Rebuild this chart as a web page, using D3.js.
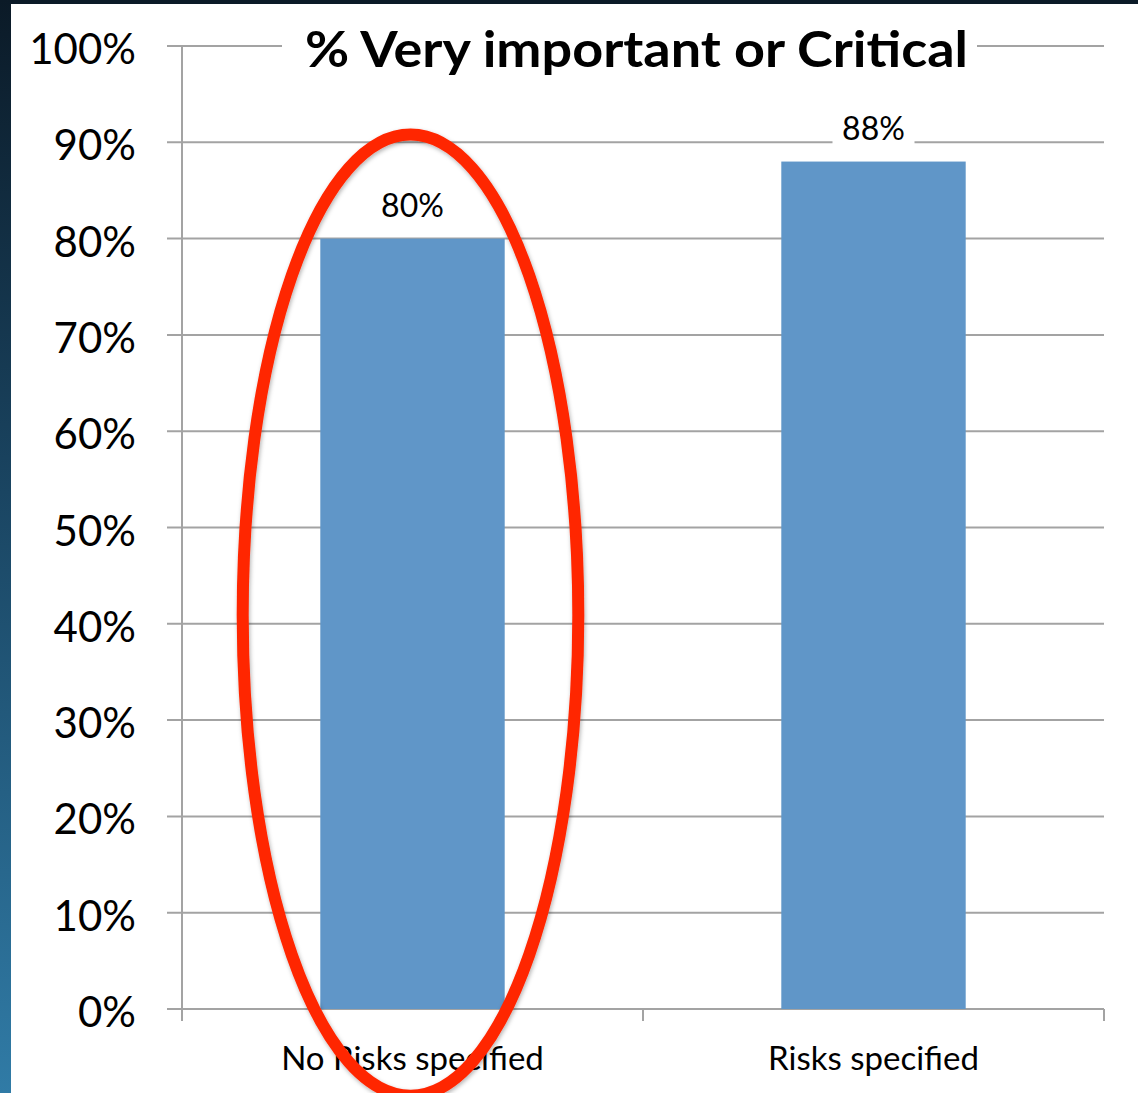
<!DOCTYPE html>
<html><head><meta charset="utf-8">
<script src="https://cdn.jsdelivr.net/npm/d3@7/dist/d3.min.js"></script>
<style>html,body{margin:0;padding:0;background:#fff;overflow:hidden}svg{display:block}</style>
</head><body>
<script>
const categories = ["No Risks specified", "Risks specified"];
const values = [80, 88];
const yTicks = [0, 10, 20, 30, 40, 50, 60, 70, 80, 90, 100];
const title = "% Very important or Critical";
const highlight = { category: "No Risks specified", top: 90.8, bottom: -9 };

const W = 1138, H = 1093;
const m = { left: 182, right: 1104, top: 46, bottom: 1009 };
const FONT = "Lato, 'Open Sans', sans-serif";

const svg = d3.select("body").append("svg").attr("width", W).attr("height", H);
const defs = svg.append("defs");
const grad = defs.append("linearGradient").attr("id", "side").attr("x1", 0).attr("y1", 0).attr("x2", 0).attr("y2", 1);
grad.append("stop").attr("offset", "0%").attr("stop-color", "#0b1a27");
grad.append("stop").attr("offset", "45%").attr("stop-color", "#1a4562");
grad.append("stop").attr("offset", "100%").attr("stop-color", "#307ba6");
const f = defs.append("filter").attr("id", "shadow").attr("x", "-10%").attr("y", "-10%").attr("width", "120%").attr("height", "120%");
f.append("feDropShadow").attr("dx", 1).attr("dy", 2).attr("stdDeviation", 2).attr("flood-color", "#000").attr("flood-opacity", 0.3);

svg.append("rect").attr("width", W).attr("height", H).attr("fill", "#fff");
svg.append("rect").attr("x", 0).attr("y", 0).attr("width", W).attr("height", 4).attr("fill", "#0b1a27");
svg.append("rect").attr("x", 0).attr("y", 0).attr("width", 11).attr("height", H).attr("fill", "url(#side)");

const y = d3.scaleLinear().domain([0, 100]).range([m.bottom, m.top]);
const x = d3.scaleBand().domain(categories).range([m.left, m.right]).paddingInner(0).paddingOuter(0);
const xb = d3.scaleBand().domain(categories).range([m.left, m.right]).paddingInner(0.6).paddingOuter(0.3);

// gridlines
svg.append("g").selectAll("line").data(yTicks).join("line")
  .attr("x1", m.left - 15).attr("x2", m.right)
  .attr("y1", d => y(d)).attr("y2", d => y(d))
  .attr("stroke", "#a3a3a3").attr("stroke-width", 2);

// y axis line
svg.append("line").attr("x1", m.left).attr("x2", m.left).attr("y1", y(100)).attr("y2", m.bottom + 12)
  .attr("stroke", "#a3a3a3").attr("stroke-width", 2);
// x ticks
const xt = categories.map(c => x(c)).concat([m.right]);
svg.append("g").selectAll("line").data(xt).join("line")
  .attr("x1", d => d).attr("x2", d => d).attr("y1", m.bottom).attr("y2", m.bottom + 12)
  .attr("stroke", "#a3a3a3").attr("stroke-width", 2);

// bars
svg.append("g").selectAll("rect").data(values).join("rect")
  .attr("x", (d, i) => xb(categories[i])).attr("width", xb.bandwidth())
  .attr("y", d => y(d)).attr("height", d => y(0) - y(d))
  .attr("fill", "#6096c8");

// y tick labels
svg.append("g").selectAll("text").data(yTicks).join("text")
  .attr("x", 136).attr("y", d => y(d) + 18)
  .attr("text-anchor", "end").attr("font-family", FONT).attr("font-size", 42)
  .attr("fill", "#000").text(d => d + "%");

// data labels with white bg
const dl = svg.append("g").selectAll("g").data(values).join("g");
dl.append("rect")
  .attr("x", (d, i) => xb(categories[i]) + xb.bandwidth() / 2 - 41).attr("width", 82)
  .attr("y", d => y(d) - 50).attr("height", 46).attr("fill", "#fff");
dl.append("text")
  .attr("x", (d, i) => xb(categories[i]) + xb.bandwidth() / 2)
  .attr("y", d => y(d) - 22)
  .attr("text-anchor", "middle").attr("font-family", FONT).attr("font-size", 32)
  .attr("fill", "#000").text(d => d + "%");

// category labels
svg.append("g").selectAll("text").data(categories).join("text")
  .attr("x", d => x(d) + x.bandwidth() / 2).attr("y", 1070)
  .attr("text-anchor", "middle").attr("font-family", FONT).attr("font-size", 33)
  .attr("fill", "#000").text(d => d);

// title
svg.append("rect").attr("x", 282).attr("y", 18).attr("width", 695).attr("height", 60).attr("fill", "#fff");
svg.append("text").attr("x", 636.5).attr("y", 67).attr("text-anchor", "middle")
  .attr("font-family", FONT).attr("font-weight", "bold").attr("font-size", 49)
  .attr("textLength", 663).attr("lengthAdjust", "spacingAndGlyphs")
  .attr("fill", "#000").text(title);

// highlight ellipse
const hcx = xb(highlight.category) + xb.bandwidth() / 2 - 2;
svg.append("ellipse")
  .attr("cx", hcx).attr("cy", (y(highlight.top) + y(highlight.bottom)) / 2)
  .attr("rx", xb.bandwidth() * 0.91).attr("ry", (y(highlight.bottom) - y(highlight.top)) / 2)
  .attr("fill", "none").attr("stroke", "#ff2600").attr("stroke-width", 12)
  .attr("filter", "url(#shadow)");
</script>
</body></html>
